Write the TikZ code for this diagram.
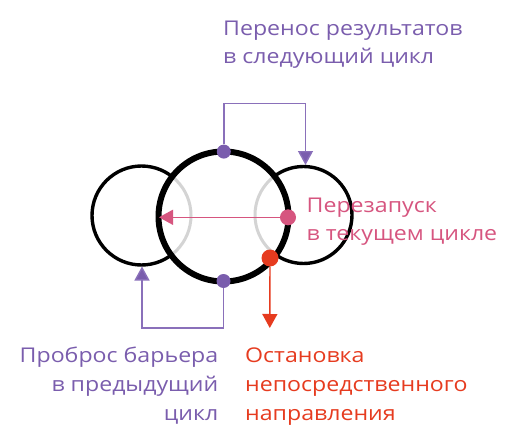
\documentclass[tikz,border=0pt]{standalone}
\usepackage{fontspec}
\setmainfont{Open Sans}
\newfontfamily\capfont{Open Sans}[FakeStretch=1.14]
\usetikzlibrary{arrows.meta}

\definecolor{cycviolet}{HTML}{7A5DAD}
\definecolor{cyclink}{HTML}{8A70BA}
\definecolor{cycpink}{HTML}{D6557F}
\definecolor{cycred}{HTML}{E63B1F}
\definecolor{cycgrey}{HTML}{D4D4D4}

\begin{document}
\begin{tikzpicture}[x=1pt, y=-1pt,
  ring/.style={draw=black, line width=3.4pt},
  ghost/.style={draw=cycgrey, line width=3pt},
  dot/.style={circle, inner sep=0pt, minimum size=#1},
  arr/.style={line width=1.4pt, -{Triangle[length=14pt, width=15pt, fill=#1]}},
  lbl/.style={inner sep=0pt, font=\capfont\fontsize{20.3}{28}\selectfont}]
\useasboundingbox (0,0) rectangle (509,428);

% previous, current and next cycle
\coordinate (prev) at (141.5,215.5);
\coordinate (cur) at (223.5,216.5);
\coordinate (next) at (303.5,215);
\draw[ring] (prev) circle[radius=49.5];
\draw[ring] (next) circle[radius=48.5];
\fill[white] (cur) circle[radius=65];
\begin{scope}
  \clip (cur) circle[radius=65];
  \draw[ghost] (prev) circle[radius=49.5];
  \draw[ghost] (next) circle[radius=48.5];
\end{scope}
\draw[line width=6pt] (cur) circle[radius=65];

% points on the current cycle
\node[dot=14pt, fill=cycviolet] (carry) at (223.8,151.6) {};
\node[dot=14pt, fill=cycviolet] (barrier) at (223.5,281) {};
\node[dot=16pt, fill=cycpink] (restart) at (288,217.3) {};
\node[dot=17pt, fill=cycred] (stop) at (270,258) {};

\coordinate (carryhop) at (305.5,103.5);
\coordinate (nexttop) at (305.5,165);
\coordinate (barrierhop) at (142,328);
\coordinate (prevbot) at (142,266.5);
\coordinate (restartend) at (159,217.3);
\coordinate (stopend) at (269.8,328);

\draw[arr=cycviolet, draw=cyclink] (carry) |- (carryhop) -- (nexttop);
\draw[arr=cycviolet, draw=cyclink] (barrier) |- (barrierhop) -- (prevbot);
\draw[arr=cycpink, draw=cycpink] (restart) -- (restartend);
\draw[arr=cycred, draw=cycred] (stop) -- (stopend);

% captions (base anchor sits on the last line)
\node[lbl, text=cycviolet, anchor=base west, align=left] (carrylbl) at (223,63.5)
  {Перенос результатов\\в следующий цикл};
\node[lbl, text=cycpink, anchor=base west, align=left] (restartlbl) at (306.5,240)
  {Перезапуск\\в текущем цикле};
\node[lbl, font=\capfont\fontsize{20.3}{29}\selectfont, text=cycviolet, anchor=base east, align=right] (barrierlbl) at (218.5,420)
  {Проброс барьера\\в предыдущий\\цикл};
\node[lbl, font=\capfont\fontsize{20.3}{29}\selectfont, text=cycred, anchor=base west, align=left] (stoplbl) at (245,420)
  {Остановка\\непосредственного\\направления};
\end{tikzpicture}
\end{document}
